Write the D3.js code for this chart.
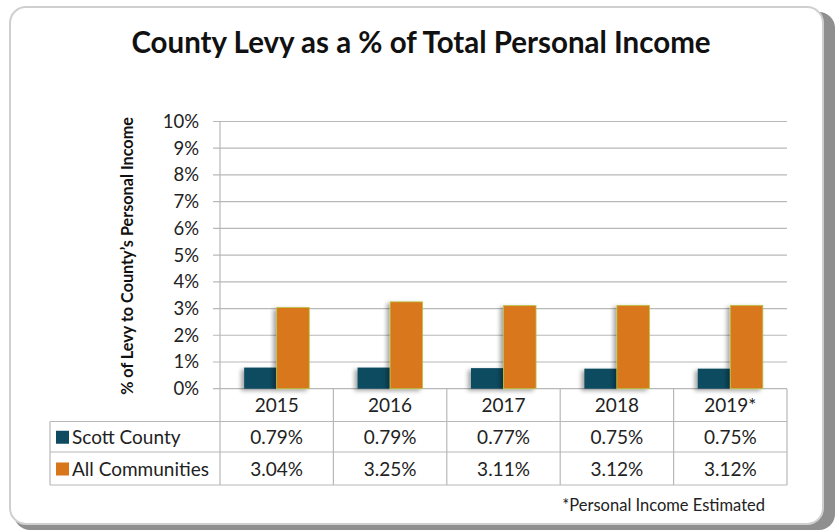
<!DOCTYPE html>
<html><head><meta charset="utf-8">
<script src="https://cdn.jsdelivr.net/npm/d3@7"></script>
<style>body{margin:0;background:#fff;}svg{display:block;}</style>
</head><body>
<script>
const categories = ["2015","2016","2017","2018","2019*"];
const seriesNames = ["Scott County","All Communities"];
const scottCounty = [0.79,0.79,0.77,0.75,0.75];
const allCommunities = [3.04,3.25,3.11,3.12,3.12];
const yTicks = [0,1,2,3,4,5,6,7,8,9,10];
const colors = ["#0e4b60","#d8771a"];
const series = [scottCounty, allCommunities];

const W=836,H=531;
const svg=d3.select("body").append("svg").attr("width",W).attr("height",H);
const defs=svg.append("defs");
const f=defs.append("filter").attr("id","sh").attr("x","-20%").attr("y","-20%").attr("width","150%").attr("height","150%");
f.append("feDropShadow").attr("dx",-3).attr("dy",2).attr("stdDeviation",2).attr("flood-color","#000").attr("flood-opacity",0.35);

// frame with shadow
svg.append("rect").attr("x",14).attr("y",12).attr("width",821).attr("height",518).attr("rx",16).attr("fill","#8f8f8f");
svg.append("rect").attr("x",10).attr("y",7).attr("width",813).attr("height",517).attr("rx",16).attr("fill","#fff").attr("stroke","#cfcfcf").attr("stroke-width",2);

const tf="Lato, 'Open Sans', sans-serif";
svg.append("text").attr("x",421).attr("y",53).attr("text-anchor","middle")
  .attr("font-family",tf).attr("font-weight","bold").attr("font-size",29.5).attr("fill","#111")
  .text("County Levy as a % of Total Personal Income");

const L=220,R=787,T=121.5,B=388.7;
const x=d3.scaleBand().domain(categories).range([L,R]);
const y=d3.scaleLinear().domain([0,10]).range([B,T]);

// gridlines
svg.append("g").selectAll("line").data(yTicks).join("line")
  .attr("x1",L-7).attr("x2",R).attr("y1",d=>y(d)).attr("y2",d=>y(d))
  .attr("stroke","#b8b8b8").attr("stroke-width",1.2);
svg.append("line").attr("x1",L).attr("x2",L).attr("y1",T).attr("y2",B).attr("stroke","#b8b8b8").attr("stroke-width",1.2);

const yAxis=d3.axisLeft(y).tickValues(yTicks).tickFormat(d=>d+"%").tickSize(0).tickPadding(21);
const ga=svg.append("g").attr("transform",`translate(${L},0)`).call(yAxis);
ga.select(".domain").remove();
ga.selectAll("text").attr("font-family",tf).attr("font-size",18.5).attr("fill","#222");

svg.append("text").attr("transform","translate(133,256) rotate(-90)").attr("text-anchor","middle")
  .attr("font-family",tf).attr("font-weight","bold").attr("font-size",16.2).attr("fill","#111")
  .text("% of Levy to County\u2019s Personal Income");

// bars
const bw=x.bandwidth()*0.287;
series.forEach((s,i)=>{
  svg.append("g").selectAll("rect").data(s).join("rect")
    .attr("x",(d,j)=>x(categories[j])+x.bandwidth()/2-bw+i*bw)
    .attr("y",d=>y(d)).attr("width",bw).attr("height",d=>B-y(d))
    .attr("fill",colors[i]).attr("stroke",i===1?"#b9c64a":"none").attr("stroke-width",0.8)
    .attr("filter","url(#sh)");
});

// table
const rowH=[389,421.5,452,485];
const TL=50;
const tg=svg.append("g").attr("stroke","#b8b8b8").attr("stroke-width",1.2);
tg.append("line").attr("x1",TL).attr("x2",R).attr("y1",rowH[1]).attr("y2",rowH[1]);
tg.append("line").attr("x1",TL).attr("x2",R).attr("y1",rowH[2]).attr("y2",rowH[2]);
tg.append("line").attr("x1",TL).attr("x2",R).attr("y1",rowH[3]).attr("y2",rowH[3]);
tg.append("line").attr("x1",TL).attr("x2",TL).attr("y1",rowH[1]).attr("y2",rowH[3]);
const bounds=categories.map(c=>x(c)).concat([R]);
tg.selectAll(".v").data(bounds).join("line").attr("x1",d=>d).attr("x2",d=>d).attr("y1",rowH[0]).attr("y2",rowH[3]);

const fs=19;
svg.append("g").selectAll("text").data(categories).join("text")
  .attr("x",d=>x(d)+x.bandwidth()/2).attr("y",(rowH[0]+rowH[1])/2+7).attr("text-anchor","middle")
  .attr("font-family",tf).attr("font-size",fs).attr("fill","#222").text(d=>d);
series.forEach((s,i)=>{
  const cy=(rowH[i+1]+rowH[i+2])/2;
  svg.append("g").selectAll("text").data(s).join("text")
    .attr("x",(d,j)=>x(categories[j])+x.bandwidth()/2).attr("y",cy+7).attr("text-anchor","middle")
    .attr("font-family",tf).attr("font-size",fs).attr("fill","#222").text(d=>d.toFixed(2)+"%");
  svg.append("rect").attr("x",56).attr("y",cy-6).attr("width",13).attr("height",13).attr("fill",colors[i]);
  svg.append("text").attr("x",72).attr("y",cy+7).attr("font-family",tf).attr("font-size",fs).attr("fill","#222").text(seriesNames[i]);
});

svg.append("text").attr("x",765).attr("y",511).attr("text-anchor","end")
  .attr("font-family",tf).attr("font-size",16.5).attr("fill","#222").text("*Personal Income Estimated");
</script>
</body></html>
